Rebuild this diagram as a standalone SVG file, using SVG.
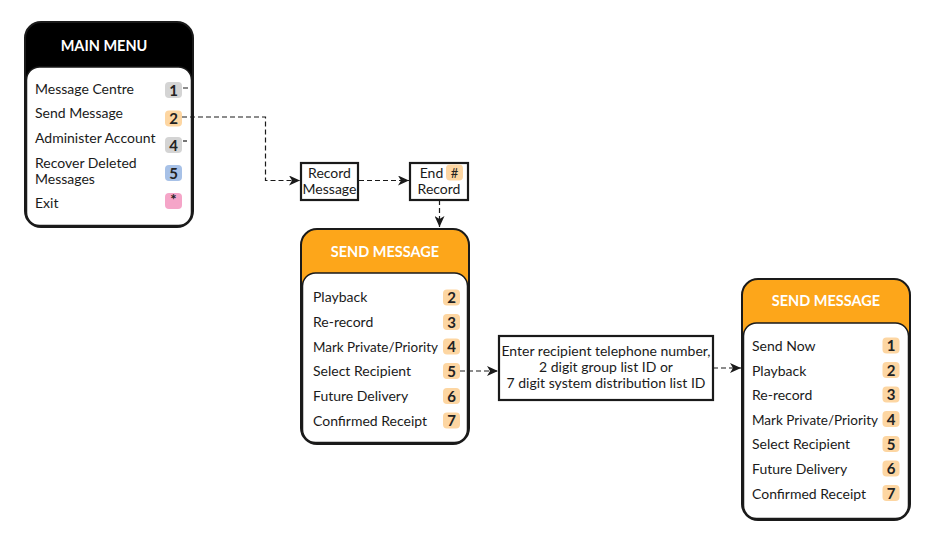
<svg xmlns="http://www.w3.org/2000/svg" width="933" height="535" viewBox="0 0 933 535">
<style>
  .outer { stroke:#1a1a1a; stroke-width:2; }
  .inner { fill:#fff; stroke:#1a1a1a; stroke-width:1.5; }
  .title { font-family:Lato, "Liberation Sans", sans-serif; font-weight:bold; font-size:14.5px; fill:#fff; text-anchor:middle; }
  .item { font-family:Lato, "Liberation Sans", sans-serif; font-size:14px; fill:#1a1a1a; }
  .btxt { font-family:Lato, "Liberation Sans", sans-serif; font-size:15px; font-weight:bold; fill:#222; text-anchor:middle; }
  .box { fill:#fff; stroke:#1a1a1a; stroke-width:2.2; }
  .btext { font-family:Lato, "Liberation Sans", sans-serif; font-size:14px; fill:#1a1a1a; text-anchor:middle; }
  .conn { fill:none; stroke:#1a1a1a; stroke-width:1.2; stroke-dasharray:5 3; }
  .or { fill:#fdd6a2; }
  .gr { fill:#d4d4d4; }
  .bl { fill:#a7c1e7; }
  .pk { fill:#f5a5c8; }
</style>
<defs>
  <marker id="arr" markerWidth="12" markerHeight="10" refX="11" refY="5" orient="auto" markerUnits="userSpaceOnUse">
    <path d="M0,0 L11,5 L0,10 L3,5 Z" fill="#1a1a1a"/>
  </marker>
</defs>

<g id="main-menu">
  <rect class="outer" x="25" y="22" width="168" height="205" rx="16" fill="#000"/>
  <rect class="inner" x="26.5" y="67" width="165" height="158.5" rx="13"/>
  <text class="title" x="104" y="51">MAIN MENU</text>
  <text class="item" x="35" y="94">Message Centre</text>
  <text class="item" x="35" y="118">Send Message</text>
  <text class="item" x="35" y="143">Administer Account</text>
  <text class="item" x="35" y="167.5">Recover Deleted</text>
  <text class="item" x="35" y="184">Messages</text>
  <text class="item" x="35" y="208">Exit</text>
  <rect class="gr" x="165" y="82" width="17" height="16" rx="4"/><text class="btxt" x="173.5" y="95.5">1</text>
  <rect class="or" x="165" y="110.5" width="17" height="16" rx="4"/><text class="btxt" x="173.5" y="124">2</text>
  <rect class="gr" x="165" y="137" width="17" height="16" rx="4"/><text class="btxt" x="173.5" y="150.5">4</text>
  <rect class="bl" x="165" y="165" width="17" height="16" rx="4"/><text class="btxt" x="173.5" y="178.5">5</text>
  <rect class="pk" x="165" y="193" width="17" height="16" rx="4"/><text class="btxt" x="173.5" y="205">*</text>
</g>

<g id="record-message">
  <rect class="box" x="301" y="163" width="57" height="37"/>
  <text class="btext" x="329.5" y="178">Record</text>
  <text class="btext" x="329.5" y="194">Message</text>
</g>

<g id="end-record">
  <rect class="box" x="410" y="163" width="58" height="37"/>
  <text class="btext" x="431.5" y="178">End</text>
  <rect class="or" x="446" y="164.5" width="17" height="16" rx="4"/><text class="btxt" x="454.5" y="177.5" style="font-size:13px;font-weight:normal">#</text>
  <text class="btext" x="439" y="194">Record</text>
</g>

<g id="send-message-1">
  <rect class="outer" x="301" y="229" width="168" height="215" rx="16" fill="#fda61a"/>
  <rect class="inner" x="302.5" y="273" width="165" height="169.5" rx="13"/>
  <text class="title" x="385" y="257">SEND MESSAGE</text>
  <text class="item" x="313" y="302">Playback</text>
  <text class="item" x="313" y="327">Re-record</text>
  <text class="item" x="313" y="351.5" textLength="125" lengthAdjust="spacingAndGlyphs">Mark Private/Priority</text>
  <text class="item" x="313" y="376">Select Recipient</text>
  <text class="item" x="313" y="401">Future Delivery</text>
  <text class="item" x="313" y="425.5">Confirmed Receipt</text>
  <rect class="or" x="443" y="289.5" width="17" height="16" rx="4"/><text class="btxt" x="451.5" y="303">2</text>
  <rect class="or" x="443" y="314" width="17" height="16" rx="4"/><text class="btxt" x="451.5" y="327.5">3</text>
  <rect class="or" x="443" y="338.5" width="17" height="16" rx="4"/><text class="btxt" x="451.5" y="352">4</text>
  <rect class="or" x="443" y="363" width="17" height="16" rx="4"/><text class="btxt" x="451.5" y="376.5">5</text>
  <rect class="or" x="443" y="388" width="17" height="16" rx="4"/><text class="btxt" x="451.5" y="401.5">6</text>
  <rect class="or" x="443" y="412.5" width="17" height="16" rx="4"/><text class="btxt" x="451.5" y="426">7</text>
</g>

<g id="enter-recipient">
  <rect class="box" x="499" y="336" width="214" height="64"/>
  <text class="btext" x="606" y="356">Enter recipient telephone number,</text>
  <text class="btext" x="606" y="372">2 digit group list ID or</text>
  <text class="btext" x="606" y="388">7 digit system distribution list ID</text>
</g>

<g id="send-message-2">
  <rect class="outer" x="742" y="279" width="168" height="241" rx="16" fill="#fda61a"/>
  <rect class="inner" x="743.5" y="323" width="165" height="195.5" rx="13"/>
  <text class="title" x="826" y="306">SEND MESSAGE</text>
  <text class="item" x="752" y="351">Send Now</text>
  <text class="item" x="752" y="375.5">Playback</text>
  <text class="item" x="752" y="400">Re-record</text>
  <text class="item" x="752" y="424.5" textLength="126" lengthAdjust="spacingAndGlyphs">Mark Private/Priority</text>
  <text class="item" x="752" y="449">Select Recipient</text>
  <text class="item" x="752" y="474">Future Delivery</text>
  <text class="item" x="752" y="498.5">Confirmed Receipt</text>
  <rect class="or" x="882.5" y="337.5" width="17" height="16" rx="4"/><text class="btxt" x="891" y="351">1</text>
  <rect class="or" x="882.5" y="362" width="17" height="16" rx="4"/><text class="btxt" x="891" y="375.5">2</text>
  <rect class="or" x="882.5" y="386.5" width="17" height="16" rx="4"/><text class="btxt" x="891" y="400">3</text>
  <rect class="or" x="882.5" y="411" width="17" height="16" rx="4"/><text class="btxt" x="891" y="424.5">4</text>
  <rect class="or" x="882.5" y="436" width="17" height="16" rx="4"/><text class="btxt" x="891" y="449.5">5</text>
  <rect class="or" x="882.5" y="460.5" width="17" height="16" rx="4"/><text class="btxt" x="891" y="474">6</text>
  <rect class="or" x="882.5" y="485" width="17" height="16" rx="4"/><text class="btxt" x="891" y="498.5">7</text>
</g>

<g id="connectors">
  <line class="conn" x1="183" y1="88" x2="194" y2="88"/>
  <line class="conn" x1="183" y1="141" x2="187" y2="141"/>
  <path class="conn" d="M182,117 H265.5 V180.5 H300" marker-end="url(#arr)"/>
  <path class="conn" d="M359,180.5 H409" marker-end="url(#arr)"/>
  <path class="conn" d="M439.5,200 V227" marker-end="url(#arr)"/>
  <path class="conn" d="M460,371 H498" marker-end="url(#arr)"/>
  <path class="conn" d="M713,368 H741" marker-end="url(#arr)"/>
</g>
</svg>
